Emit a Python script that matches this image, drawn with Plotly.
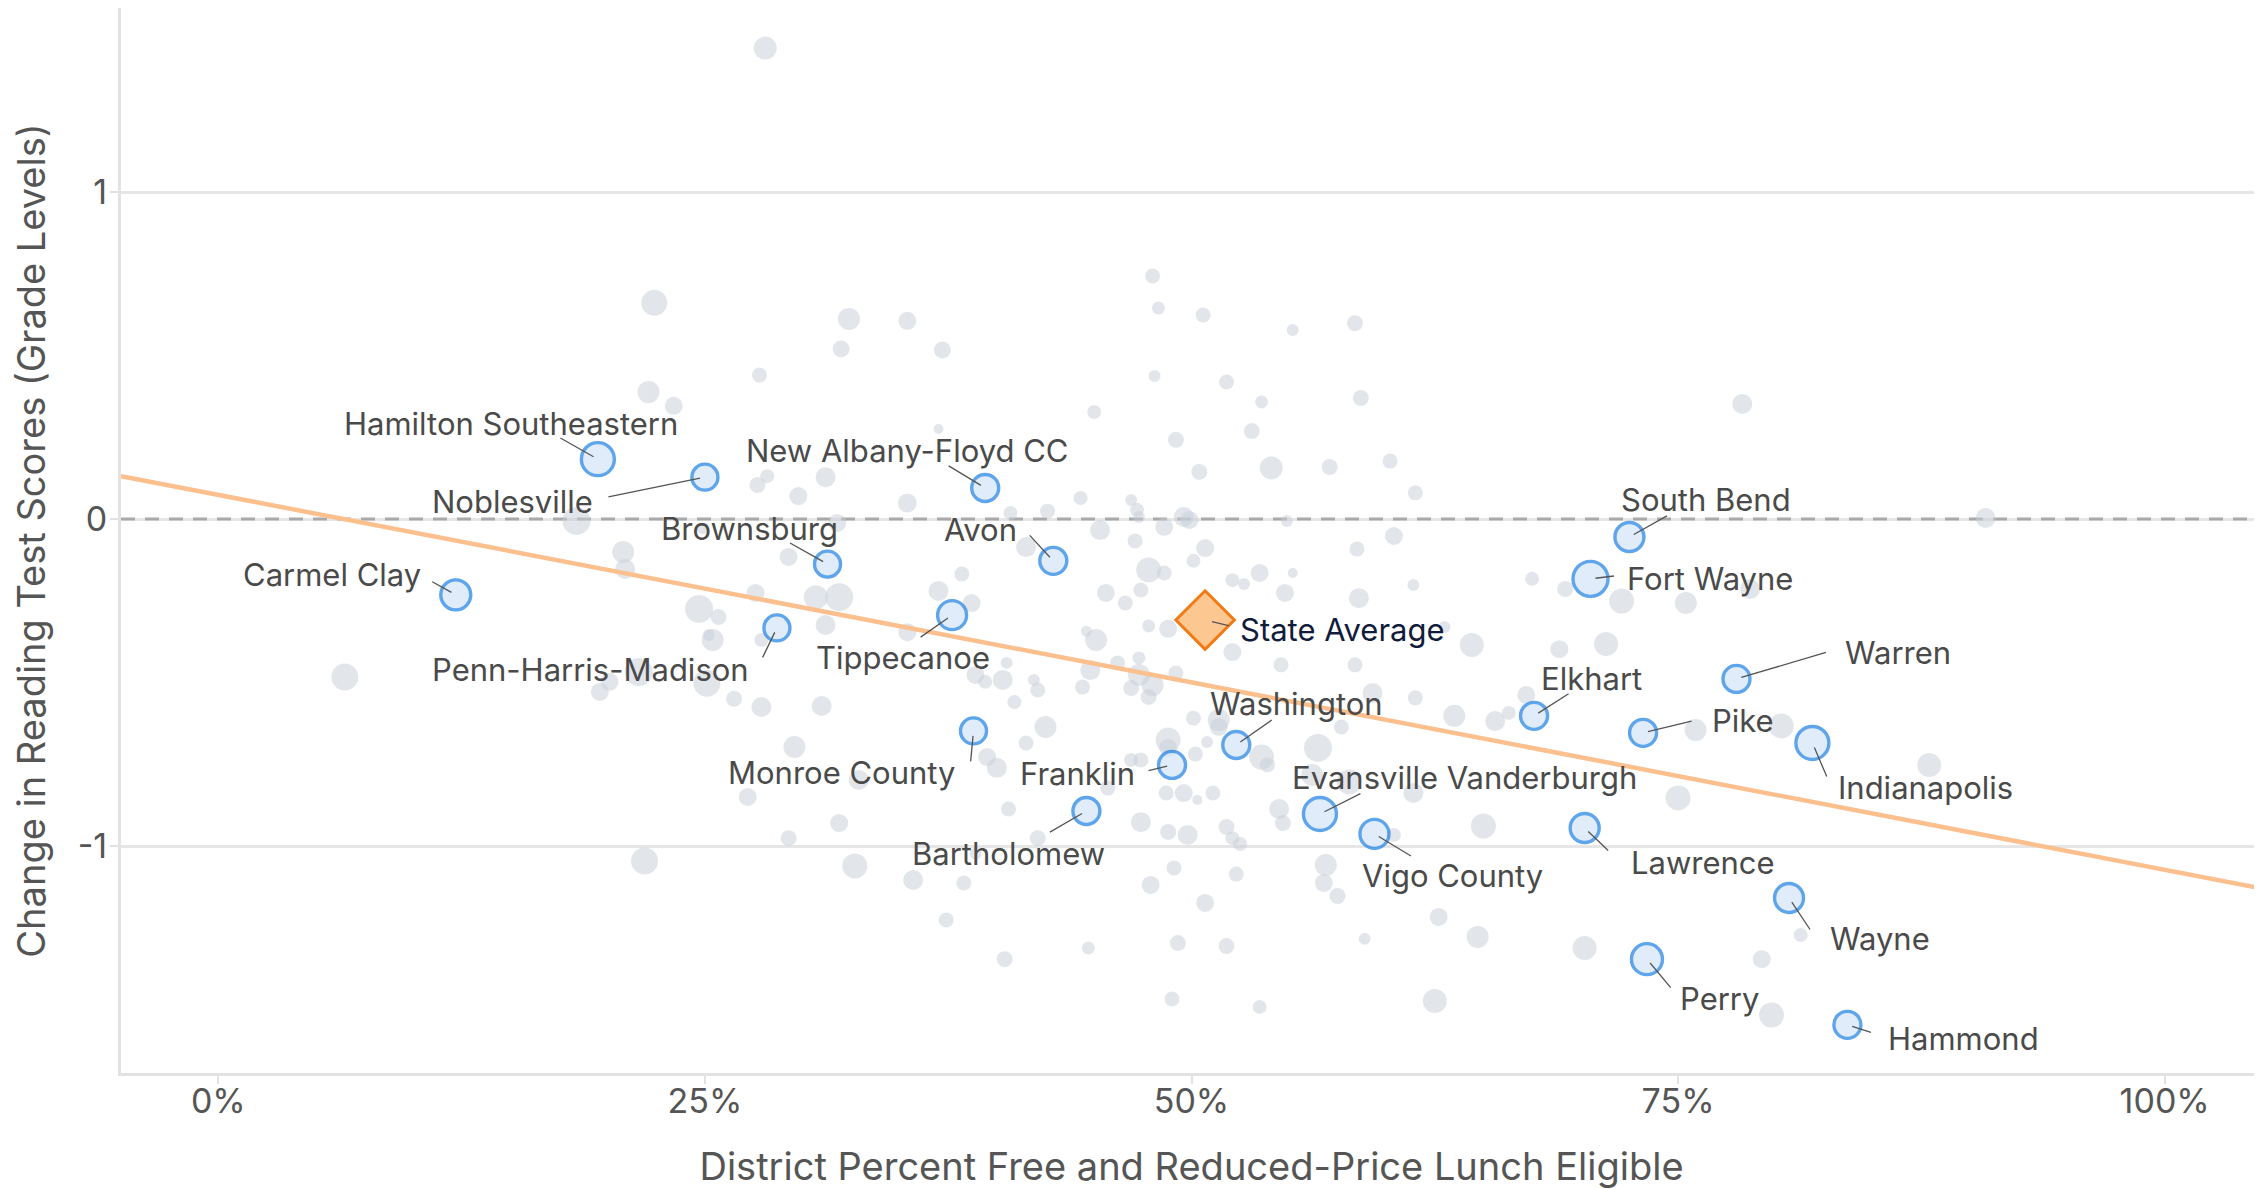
import plotly.graph_objects as go

# ---------------- data ----------------
gray_x = [0.224, 0.324, 0.320, 0.278, 0.221, 0.234, 0.282, 0.277, 0.312, 0.298, 0.184, 0.318, 0.249, 0.208, 0.209,
          0.293, 0.276, 0.307, 0.319, 0.247, 0.257, 0.312, 0.254, 0.252, 0.279, 0.065, 0.201, 0.196, 0.216, 0.251,
          0.265, 0.279, 0.310, 0.296, 0.272, 0.329, 0.319, 0.293, 0.219, 0.327, 0.480, 0.483, 0.506, 0.552, 0.584,
          0.354, 0.372, 0.481, 0.518, 0.536, 0.587, 0.450, 0.531, 0.370, 0.492, 0.541, 0.504, 0.571, 0.602, 0.615,
          0.354, 0.443, 0.426, 0.407, 0.469, 0.472, 0.473, 0.496, 0.499, 0.549, 0.453, 0.486, 0.471, 0.604, 0.507,
          0.585, 0.501, 0.478, 0.486, 0.535, 0.521, 0.527, 0.552, 0.614, 0.548, 0.586, 0.415, 0.382, 0.370, 0.387,
          0.456, 0.474, 0.466, 0.478, 0.488, 0.451, 0.446, 0.354, 0.521, 0.546, 0.584, 0.473, 0.405, 0.389, 0.394,
          0.403, 0.419, 0.421, 0.409, 0.444, 0.448, 0.462, 0.473, 0.480, 0.469, 0.478, 0.492, 0.615, 0.593, 0.501,
          0.514, 0.514, 0.508, 0.502, 0.488, 0.488, 0.536, 0.539, 0.565, 0.577, 0.562, 0.581, 0.614, 0.425, 0.415,
          0.395, 0.400, 0.469, 0.474, 0.457, 0.487, 0.496, 0.503, 0.511, 0.406, 0.474, 0.488, 0.498, 0.518, 0.521,
          0.525, 0.545, 0.547, 0.604, 0.421, 0.389, 0.357, 0.383, 0.491, 0.523, 0.569, 0.568, 0.575, 0.479, 0.507,
          0.374, 0.447, 0.493, 0.518, 0.589, 0.404, 0.490, 0.535, 0.625, 0.627, 0.783, 0.908, 0.675, 0.692, 0.721,
          0.754, 0.787, 0.644, 0.689, 0.713, 0.630, 0.635, 0.656, 0.663, 0.672, 0.759, 0.803, 0.879, 0.750, 0.650,
          0.647, 0.702, 0.793, 0.813, 0.798, 0.281]
gray_y = [0.661, 0.612, 0.520, 0.440, 0.388, 0.346, 0.131, 0.104, 0.128, 0.070, -0.006, -0.012, -0.028, -0.101, -0.153,
          -0.116, -0.226, -0.239, -0.239, -0.275, -0.300, -0.324, -0.370, -0.355, -0.370, -0.483, -0.498, -0.529, -0.468, -0.502,
          -0.550, -0.575, -0.572, -0.697, -0.850, -0.798, -0.930, -0.976, -1.046, -1.061, 0.743, 0.645, 0.624, 0.578, 0.599,
          0.606, 0.517, 0.437, 0.419, 0.358, 0.370, 0.327, 0.269, 0.275, 0.242, 0.156, 0.144, 0.159, 0.177, 0.080,
          0.049, 0.064, 0.024, 0.018, 0.058, 0.028, 0.006, 0.006, -0.003, -0.006, -0.034, -0.024, -0.067, -0.052, -0.089,
          -0.092, -0.128, -0.156, -0.165, -0.165, -0.187, -0.199, -0.165, -0.202, -0.226, -0.242, -0.086, -0.168, -0.220, -0.257,
          -0.226, -0.217, -0.257, -0.327, -0.336, -0.370, -0.343, -0.346, -0.407, -0.446, -0.446, -0.425, -0.440, -0.477, -0.498,
          -0.492, -0.492, -0.523, -0.560, -0.514, -0.462, -0.440, -0.477, -0.508, -0.517, -0.544, -0.471, -0.547, -0.532, -0.609,
          -0.615, -0.636, -0.682, -0.719, -0.676, -0.700, -0.728, -0.752, -0.700, -0.636, -0.783, -0.804, -0.838, -0.636, -0.685,
          -0.728, -0.761, -0.737, -0.737, -0.823, -0.838, -0.838, -0.859, -0.838, -0.887, -0.927, -0.957, -0.966, -0.942, -0.976,
          -0.994, -0.887, -0.930, -0.966, -0.976, -1.024, -1.104, -1.113, -1.067, -1.086, -1.058, -1.113, -1.153, -1.119, -1.174,
          -1.226, -1.312, -1.297, -1.306, -1.284, -1.346, -1.468, -1.492, -1.474, -1.217, 0.352, 0.003, -0.183, -0.214, -0.251,
          -0.257, -0.214, -0.385, -0.398, -0.382, -0.330, -0.602, -0.618, -0.593, -0.538, -0.645, -0.633, -0.752, -0.853, -0.939,
          -1.278, -1.312, -1.346, -1.272, -1.517, 1.440]
gray_size = [26, 22, 17, 15, 22, 18, 14, 16, 20, 18, 28, 18, 12, 22, 20,
             18, 18, 24, 28, 28, 16, 20, 22, 12, 14, 27, 18, 18, 28, 27,
             16, 20, 20, 22, 18, 20, 18, 16, 27, 25, 15, 13, 15, 12, 16,
             18, 17, 12, 15, 13, 16, 14, 16, 10, 16, 23, 16, 16, 15, 15,
             19, 14, 15, 14, 12, 14, 12, 20, 18, 12, 20, 18, 15, 18, 18,
             15, 14, 25, 15, 18, 14, 12, 10, 12, 18, 20, 20, 15, 20, 18,
             18, 15, 15, 13, 18, 22, 11, 18, 18, 15, 15, 13, 12, 18, 14,
             20, 12, 15, 14, 15, 20, 15, 22, 22, 16, 16, 15, 15, 20, 15,
             22, 18, 12, 15, 25, 18, 25, 15, 28, 15, 22, 25, 20, 22, 15,
             18, 20, 14, 15, 15, 15, 18, 10, 15, 15, 20, 16, 20, 16, 14,
             14, 20, 16, 14, 16, 12, 20, 15, 15, 15, 22, 18, 16, 18, 18,
             15, 13, 16, 16, 12, 16, 15, 14, 24, 18, 20, 20, 14, 16, 25,
             22, 20, 24, 18, 24, 12, 22, 20, 14, 18, 22, 25, 24, 25, 25,
             22, 24, 18, 14, 25, 23]

district_names = ["Hamilton Southeastern", "Noblesville", "New Albany-Floyd CC", "Brownsburg", "Avon",
                  "Carmel Clay", "Penn-Harris-Madison", "Tippecanoe", "Monroe County", "Franklin",
                  "Washington", "Bartholomew", "Evansville Vanderburgh", "Vigo County", "South Bend",
                  "Fort Wayne", "Elkhart", "Warren", "Pike", "Indianapolis",
                  "Lawrence", "Wayne", "Perry", "Hammond"]
district_x = [0.195, 0.250, 0.394, 0.313, 0.429, 0.122, 0.287, 0.377, 0.388, 0.490,
              0.523, 0.446, 0.566, 0.594, 0.725, 0.705, 0.676, 0.780, 0.732, 0.819,
              0.702, 0.807, 0.734, 0.837]
district_y = [0.183, 0.128, 0.095, -0.138, -0.128, -0.232, -0.333, -0.294, -0.648, -0.752,
              -0.691, -0.893, -0.902, -0.963, -0.055, -0.183, -0.602, -0.489, -0.654, -0.685,
              -0.945, -1.159, -1.346, -1.547]
district_size = [33, 26, 27, 26, 27, 30, 26, 29, 26, 27,
                 27, 27, 33, 29, 29, 35, 27, 27, 27, 33,
                 29, 29, 31, 27]

state_label = "State Average"
state_x = 0.507
state_y = -0.309

trend_x = [-0.05, 1.05]
trend_y = [0.131, -1.13]

zero_x = [-0.05, 1.05]
zero_y = [0, 0]

x_tick_vals = [0, 0.25, 0.5, 0.75, 1.0]
x_tick_text = ["0%", "25%", "50%", "75%", "100%"]
y_tick_vals = [-1, 0, 1]
y_tick_text = ["-1", "0", "1"]

x_title = "District Percent Free and Reduced-Price Lunch Eligible"
y_title = "Change in Reading Test Scores (Grade Levels)"

# ---------------- label placement (pixel offsets from the marker) ----------------
# text centre offset
label_offsets = {
    "Hamilton Southeastern": (-87, -36),
    "Noblesville": (-192, 24),
    "New Albany-Floyd CC": (-78, -37),
    "Brownsburg": (-78, -36),
    "Avon": (-73, -31),
    "Carmel Clay": (-124, -20),
    "Penn-Harris-Madison": (-186, 42),
    "Tippecanoe": (-49, 42),
    "Monroe County": (-132, 42),
    "Franklin": (-95, 9),
    "Washington": (60, -41),
    "Bartholomew": (-78, 42),
    "Evansville Vanderburgh": (145, -36),
    "Vigo County": (78, 42),
    "South Bend": (77, -37),
    "Fort Wayne": (119, 0),
    "Elkhart": (57, -37),
    "Warren": (162, -26),
    "Pike": (100, -12),
    "Indianapolis": (113, 45),
    "Lawrence": (118, 34),
    "Wayne": (91, 41),
    "Perry": (73, 39),
    "Hammond": (116, 14),
}
# far end of the leader line
leader_offsets = {
    "Hamilton Southeastern": (-39, -22),
    "Noblesville": (-98, 20),
    "New Albany-Floyd CC": (-38, -23),
    "Brownsburg": (-39, -22),
    "Avon": (-25, -27),
    "Carmel Clay": (-25, -14),
    "Penn-Harris-Madison": (-15, 31),
    "Tippecanoe": (-33, 23),
    "Monroe County": (-3, 32),
    "Franklin": (-25, 6),
    "Washington": (37, -26),
    "Bartholomew": (-38, 22),
    "Evansville Vanderburgh": (42, -21),
    "Vigo County": (38, 23),
    "South Bend": (39, -22),
    "Fort Wayne": (25, -3),
    "Elkhart": (36, -23),
    "Warren": (91, -27),
    "Pike": (50, -12),
    "Indianapolis": (15, 35),
    "Lawrence": (25, 24),
    "Wayne": (22, 33),
    "Perry": (25, 30),
    "Hammond": (25, 8),
}
state_offset = (137, 9)
state_leader = (25, 6)

FONT = "Inter, Roboto, 'Noto Sans', sans-serif"
TEXT_COLOR = "#4a4a4a"
LEADER_COLOR = "#555555"

fig = go.Figure()

fig.add_trace(go.Scatter(
    x=zero_x, y=zero_y, mode="lines",
    line=dict(color="#a9a9a9", width=3, dash="14px,10px"),
    hoverinfo="skip", showlegend=False))

fig.add_trace(go.Scatter(
    x=gray_x, y=gray_y, mode="markers",
    marker=dict(size=gray_size, color="rgba(200,207,217,0.75)", line=dict(width=0)),
    hoverinfo="skip", showlegend=False))

fig.add_trace(go.Scatter(
    x=trend_x, y=trend_y, mode="lines",
    line=dict(color="#fcbf8e", width=4.5),
    hoverinfo="skip", showlegend=False))

fig.add_trace(go.Scatter(
    x=district_x, y=district_y, mode="markers", text=district_names,
    marker=dict(size=district_size, color="#d3e5f8", line=dict(color="#1b7fe3", width=3.4)),
    hoverinfo="text", showlegend=False))

fig.add_trace(go.Scatter(
    x=[state_x], y=[state_y], mode="markers", text=[state_label],
    marker=dict(symbol="diamond", size=45, color="#fdc792", line=dict(color="#f27a12", width=3)),
    hoverinfo="text", showlegend=False))

annotations = []


def add_label(name, xv, yv, text_off, line_off, color, standoff):
    # leader line only
    annotations.append(dict(
        x=xv, y=yv, xref="x", yref="y", text="", showarrow=True,
        ax=line_off[0], ay=line_off[1], arrowhead=0, arrowwidth=1.3,
        arrowcolor=LEADER_COLOR, standoff=standoff, font=dict(size=1)))
    # text only
    annotations.append(dict(
        x=xv, y=yv, xref="x", yref="y", text=name, showarrow=True,
        ax=text_off[0], ay=text_off[1], arrowhead=0, arrowwidth=0.1,
        arrowcolor="rgba(0,0,0,0)",
        font=dict(family=FONT, size=31, color=color)))


for name, xv, yv in zip(district_names, district_x, district_y):
    add_label(name, xv, yv, label_offsets[name], leader_offsets[name], TEXT_COLOR, 5)
add_label(state_label, state_x, state_y, state_offset, state_leader, "#111b3c", 7)

# the page body adds an 8px offset, so the figure is sized to fit the window
fig.update_layout(
    width=2254, height=1181,
    margin=dict(l=113, r=0, t=0, b=116),
    paper_bgcolor="white", plot_bgcolor="white",
    font=dict(family=FONT, color="#555555"),
    showlegend=False,
    annotations=annotations,
    xaxis=dict(
        range=[-0.05, 1.05], tickvals=x_tick_vals, ticktext=x_tick_text,
        showgrid=False, zeroline=False, showline=True, linecolor="#e2e2e2", linewidth=3,
        ticks="outside", ticklen=8, tickwidth=2, tickcolor="#e2e2e2",
        ticklabelstandoff=-12,
        tickfont=dict(family=FONT, size=34, color="#555555"),
        title=dict(text=x_title, font=dict(family=FONT, size=38, color="#555555"), standoff=34),
        fixedrange=True),
    yaxis=dict(
        range=[-1.6942, 1.5627], tickvals=y_tick_vals, ticktext=y_tick_text,
        showgrid=True, gridcolor="#e6e6e6", gridwidth=3, zeroline=False,
        showline=True, linecolor="#e2e2e2", linewidth=3,
        ticks="outside", ticklen=8, tickwidth=2, tickcolor="#e2e2e2",
        ticklabelstandoff=-4,
        tickfont=dict(family=FONT, size=34, color="#555555"),
        title=dict(text=y_title, font=dict(family=FONT, size=38, color="#555555"), standoff=40),
        fixedrange=True),
)

fig.write_html("out.html")
